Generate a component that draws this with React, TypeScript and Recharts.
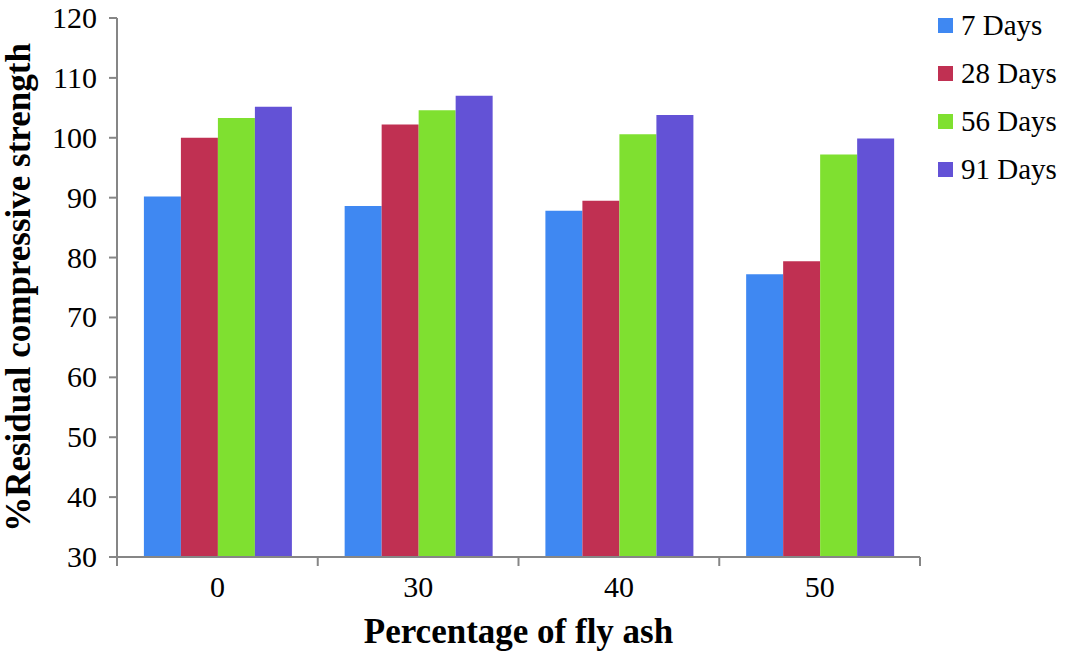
import { Bar, BarChart, XAxis, YAxis } from 'recharts';

const categories = ['0', '30', '40', '50'];
const days7 = [90.2, 88.6, 87.8, 77.2];
const days28 = [100.0, 102.2, 89.5, 79.4];
const days56 = [103.3, 104.6, 100.6, 97.2];
const days91 = [105.2, 107.0, 103.8, 99.9];
const yTicks = [30, 40, 50, 60, 70, 80, 90, 100, 110, 120];

const seriesNames = ['7 Days', '28 Days', '56 Days', '91 Days'];
const seriesColors = ['#3f88f2', '#c03052', '#7fe030', '#6352d6'];

const W = 1067;
const H = 654;
const margin = { top: 18, right: 147, bottom: 0, left: 17 };
const yAxisWidth = 100;
const xAxisHeight = 97;
const font = '"Liberation Serif", "Times New Roman", Times, serif';
const axisColor = '#868686';
const tickFont = 30;
const titleFont = 35;

const data = categories.map((c, i) => ({
  name: c,
  d7: days7[i],
  d28: days28[i],
  d56: days56[i],
  d91: days91[i],
}));
const keys = ['d7', 'd28', 'd56', 'd91'];

const halfBand = (W - margin.left - margin.right - yAxisWidth) / categories.length / 2;

const XTick = ({ x, y, payload, index }: any) => (
  <g>
    <line x1={x - halfBand} y1={y} x2={x - halfBand} y2={y + 9} stroke={axisColor} strokeWidth={2} />
    {index === categories.length - 1 && (
      <line x1={x + halfBand} y1={y} x2={x + halfBand} y2={y + 9} stroke={axisColor} strokeWidth={2} />
    )}
    <text x={x} y={y + 40} textAnchor='middle' fontSize={tickFont} fontFamily={font} fill='#000'>
      {payload.value}
    </text>
  </g>
);

const YTick = ({ x, y, payload }: any) => (
  <text x={x} y={y} dy={10} textAnchor='end' fontSize={tickFont} fontFamily={font} fill='#000'>
    {payload.value}
  </text>
);

const YTitle = ({ viewBox }: any) => {
  const cx = viewBox.x + 13;
  const cy = viewBox.y + viewBox.height / 2;
  return (
    <text
      x={cx}
      y={cy}
      transform={`rotate(-90, ${cx}, ${cy})`}
      textAnchor='middle'
      fontSize={titleFont}
      fontWeight='bold'
      fontFamily={font}
      fill='#000'
    >
      %Residual compressive strength
    </text>
  );
};

const XTitle = ({ viewBox }: any) => (
  <text
    x={viewBox.x + viewBox.width / 2}
    y={viewBox.y + 86}
    textAnchor='middle'
    fontSize={titleFont}
    fontWeight='bold'
    fontFamily={font}
    fill='#000'
  >
    Percentage of fly ash
  </text>
);

export default function App() {
  return (
    <div style={{ position: 'absolute', left: 0, top: 0, width: W, height: H, background: '#fff', fontFamily: font }}>
      <BarChart
        width={W}
        height={H}
        data={data}
        margin={margin}
        barCategoryGap='13.4%'
        barGap={0}
      >
        <XAxis
          dataKey='name'
          height={xAxisHeight}
          axisLine={{ stroke: axisColor, strokeWidth: 2 }}
          tickLine={false}
          tickSize={0}
          tickMargin={0}
          tick={<XTick />}
          label={<XTitle />}
        />
        <YAxis
          width={yAxisWidth}
          domain={[30, 120]}
          ticks={yTicks}
          allowDataOverflow
          axisLine={{ stroke: axisColor, strokeWidth: 2 }}
          tickLine={{ stroke: axisColor, strokeWidth: 2 }}
          tickSize={8}
          tickMargin={12}
          tick={<YTick />}
          label={<YTitle />}
        />
        {keys.map((k, i) => (
          <Bar key={k} dataKey={k} name={seriesNames[i]} fill={seriesColors[i]} isAnimationActive={false} />
        ))}
      </BarChart>
      <div style={{ position: 'absolute', left: 938, top: 1, fontSize: 29 }}>
        {seriesNames.map((n, i) => (
          <div key={n} style={{ display: 'flex', alignItems: 'center', height: 48 }}>
            <span
              style={{
                display: 'inline-block',
                width: 15,
                height: 15,
                background: seriesColors[i],
                marginRight: 8,
              }}
            />
            <span>{n}</span>
          </div>
        ))}
      </div>
    </div>
  );
}
